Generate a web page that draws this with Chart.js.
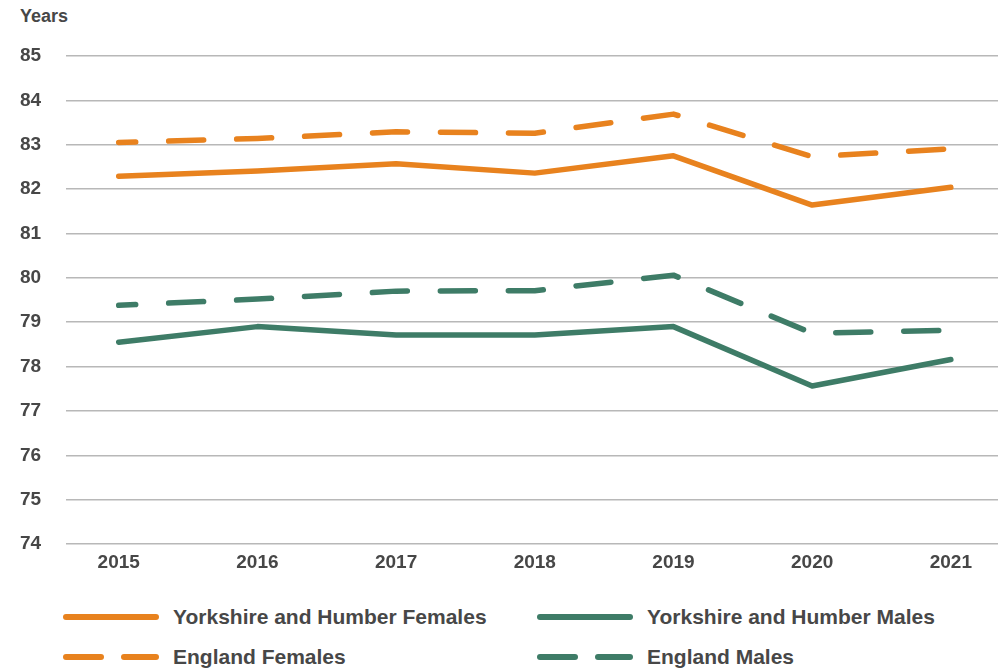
<!DOCTYPE html>
<html>
<head>
<meta charset="utf-8">
<script src="https://cdn.jsdelivr.net/npm/chart.js@4/dist/chart.umd.min.js"></script>
<style>
  html, body { margin: 0; padding: 0; background: #fff; }
  body { width: 998px; height: 669px; position: relative; overflow: hidden; font-family: "Liberation Sans", Arial, sans-serif; }
  #wrap { position: absolute; left: 0; top: 0; width: 998px; height: 580px; }
  #ytitle { position: absolute; left: 20px; top: 6px; font-size: 18px; font-weight: bold; color: #474747; }
  .leg { position: absolute; display: flex; align-items: center; font-size: 21px; font-weight: bold; color: #474747; line-height: 24px; }
  .leg svg { margin-right: 14px; }
</style>
</head>
<body>
<div id="ytitle">Years</div>
<div id="wrap"><canvas id="c"></canvas></div>
<div id="legend"></div>
<script>
const years = [2015, 2016, 2017, 2018, 2019, 2020, 2021];
const yorkshireFemales = [82.29, 82.41, 82.57, 82.36, 82.75, 81.64, 82.04];
const englandFemales   = [83.05, 83.14, 83.29, 83.26, 83.69, 82.73, 82.91];
const yorkshireMales   = [78.55, 78.90, 78.71, 78.71, 78.90, 77.56, 78.16];
const englandMales     = [79.38, 79.52, 79.70, 79.71, 80.06, 78.75, 78.82];
const yTicks = [74, 75, 76, 77, 78, 79, 80, 81, 82, 83, 84, 85];

const ORANGE = '#E8821E';
const GREEN = '#3E7C67';
const TEXT = '#474747';

const seriesDefs = [
  { label: 'Yorkshire and Humber Females', data: yorkshireFemales, color: ORANGE, dashed: false },
  { label: 'England Females', data: englandFemales, color: ORANGE, dashed: true },
  { label: 'Yorkshire and Humber Males', data: yorkshireMales, color: GREEN, dashed: false },
  { label: 'England Males', data: englandMales, color: GREEN, dashed: true }
];

const datasets = seriesDefs.map(s => ({
  label: s.label,
  data: years.map((y, i) => ({ x: y, y: s.data[i] })),
  borderColor: s.color,
  backgroundColor: s.color,
  borderWidth: 5.5,
  borderDash: s.dashed ? [35, 33] : [],
  borderDashOffset: s.dashed ? 18 : 0,
  borderCapStyle: 'round',
  borderJoinStyle: 'round',
  pointRadius: 0,
  tension: 0,
  fill: false
}));

new Chart(document.getElementById('c'), {
  type: 'line',
  data: { datasets },
  options: {
    responsive: true,
    maintainAspectRatio: false,
    animation: false,
    layout: { padding: { left: 20, right: 0, top: 56, bottom: 0 } },
    plugins: { legend: { display: false }, tooltip: { enabled: false } },
    scales: {
      x: {
        type: 'linear',
        min: 2014.62,
        max: 2021.34,
        afterBuildTicks: (axis) => { axis.ticks = years.map(v => ({ value: v })); },
        afterFit: (axis) => { axis.height = 36; },
        grid: { display: false, drawTicks: false },
        border: { display: false },
        ticks: {
          padding: 7,
          color: TEXT,
          font: { family: 'Liberation Sans', size: 19, weight: 'bold' },
          callback: (v) => String(v)
        }
      },
      y: {
        min: 74,
        max: 85,
        afterBuildTicks: (axis) => { axis.ticks = yTicks.map(v => ({ value: v })); },
        afterFit: (axis) => { axis.width = 46; },
        grid: { color: '#b8b8b8', lineWidth: 1.5, drawTicks: false },
        border: { display: false },
        ticks: {
          crossAlign: 'far',
          padding: 0,
          color: TEXT,
          font: { family: 'Liberation Sans', size: 19, weight: 'bold' },
          callback: (v) => String(v)
        }
      }
    }
  }
});

// Custom legend (two columns)
const legendPos = [
  { left: 63, top: 617 },
  { left: 63, top: 657 },
  { left: 537, top: 617 },
  { left: 537, top: 657 }
];
const legend = document.getElementById('legend');
seriesDefs.forEach((s, i) => {
  const d = document.createElement('div');
  d.className = 'leg';
  d.style.left = legendPos[i].left + 'px';
  d.style.top = (legendPos[i].top - 12) + 'px';
  d.style.height = '24px';
  const line = s.dashed
    ? `<line x1="3" y1="12" x2="38" y2="12" stroke="${s.color}" stroke-width="6" stroke-linecap="round"/>` +
      `<line x1="61" y1="12" x2="93" y2="12" stroke="${s.color}" stroke-width="6" stroke-linecap="round"/>`
    : `<line x1="3" y1="12" x2="93" y2="12" stroke="${s.color}" stroke-width="6" stroke-linecap="round"/>`;
  d.innerHTML = `<svg width="96" height="24">${line}</svg><span>${s.label}</span>`;
  legend.appendChild(d);
});
</script>
</body>
</html>
